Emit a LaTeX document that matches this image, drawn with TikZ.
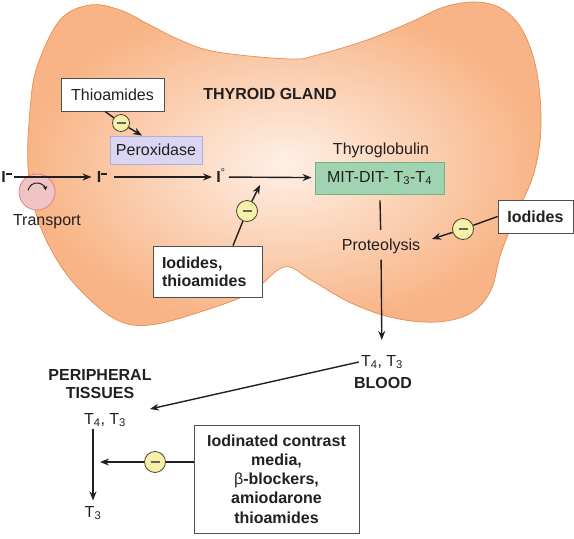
\documentclass[tikz,border=0pt]{standalone}
\usepackage{fontspec}
\setmainfont{Liberation Sans}
\usetikzlibrary{arrows.meta,calc}
\definecolor{ink}{RGB}{35,31,32}
\definecolor{boxgray}{RGB}{80,80,80}
\definecolor{blobedge}{RGB}{232,140,80}
\definecolor{blobout}{RGB}{248,180,134}
\definecolor{blobin}{RGB}{254,240,230}
\definecolor{peroxfill}{RGB}{218,214,242}
\definecolor{peroxedge}{RGB}{180,170,222}
\definecolor{mitfill}{RGB}{160,212,176}
\definecolor{mitedge}{RGB}{110,180,135}
\definecolor{trfill}{RGB}{240,196,196}
\definecolor{tredge}{RGB}{222,130,130}
\definecolor{minfill}{RGB}{246,240,168}
\definecolor{minedge}{RGB}{70,70,50}
\begin{document}
\begin{tikzpicture}[x=1pt,y=-1pt,
  every node/.style={font=\fontsize{16}{19}\selectfont, text=ink},
  arr/.style={draw=ink, line width=1.4pt, -{Stealth[length=9pt,width=7pt]}},
  ln/.style={draw=ink, line width=1.4pt},
  wbox/.style={draw=boxgray, fill=white, line width=0.8pt, inner sep=0pt},
  ion/.style={inner sep=1pt, text height=11.5pt, text depth=0pt},
  minusc/.style={circle, draw=minedge, fill=minfill, line width=0.8pt, minimum size=#1, inner sep=0pt,
    path picture={\draw[line width=1.2pt, ink!70] ([xshift=-4.5pt]path picture bounding box.center) -- ([xshift=4.5pt]path picture bounding box.center);}},
  minusc/.default=21pt
]
\useasboundingbox (0,0) rectangle (574,539);
% thyroid gland blob
\shadedraw[draw=blobedge, line width=0.7pt, inner color=blobin, outer color=blobout]
  plot[smooth cycle, tension=0.6] coordinates {
  (37,67) (60,20) (90,5) (120,10) (150,25) (180,40) (217,52) (290,59)
  (317,55) (367,40) (411,22) (444,7) (477,2) (504,10) (524,33) (537,73)
  (541,127) (534,173) (517,213) (501,253) (491,290) (471,313) (437,322)
  (394,318) (351,303) (311,280) (284,267) (250,293) (200,312) (150,325)
  (117,320) (83,293) (57,260) (37,217) (28,167) (30,110)};
% labels
\node (gland) at (270,94) {\textbf{THYROID GLAND}};
\node[wbox, minimum width=103pt, minimum height=33pt] (thio) at (112.5,94.5) {Thioamides};
\node[draw=peroxedge, fill=peroxfill, line width=0.8pt, minimum width=92pt, minimum height=28pt, inner sep=0pt] (perox) at (156,150) {Peroxidase};
% transport
\node[circle, draw=tredge, fill=trfill, line width=0.8pt, minimum size=36pt, inner sep=0pt] (tr) at (37,192) {};
\draw[ink, line width=1pt, -{Stealth[length=4.5pt,width=4.5pt]}] ([shift={(-8.9pt,1.6pt)}]tr.center) arc[start angle=170, end angle=10, radius=9pt];
\node (trl) at (47,222) {Transport};
% iodide chain
\node[ion] (in0) at (6.5,177) {\textbf{I}\raisebox{8pt}{\rule{6pt}{1.3pt}}};
\node[ion] (i1) at (102,177) {\textbf{I}\raisebox{8pt}{\rule{6pt}{1.3pt}}};
\node[ion] (i2) at (221,177) {\textbf{I}\textsuperscript{°}};
\node (tg) at (381,150) {Thyroglobulin};
\node[draw=mitedge, fill=mitfill, line width=0.8pt, minimum width=129pt, minimum height=32pt, inner sep=0pt] (mit) at (379.5,178) {MIT-DIT- T\textsubscript{3}-T\textsubscript{4}};
\draw[arr, shorten <=1pt, shorten >=4pt] (in0) -- (i1);
\draw[arr, shorten <=6pt, shorten >=3pt] (i1) -- (i2);
\draw[arr, shorten <=2pt, shorten >=3pt] (i2) -- (mit);
% proteolysis
\node[inner sep=2pt] (prot) at (381,246) {Proteolysis};
\draw[ln, shorten <=6pt, shorten >=6.5pt] (mit) -- (prot);
\node[inner sep=2pt] (blood) at (382,362) {T\textsubscript{4}, T\textsubscript{3}};
\node (bloodl) at (383,383) {\textbf{BLOOD}};
\draw[arr, shorten <=4pt, shorten >=13pt] (prot) -- (blood);
% iodides, thioamides box
\node[wbox, minimum width=109pt, minimum height=51pt, align=left, font=\fontsize{16}{18}\selectfont\bfseries, text width=91pt] (iod1) at (207.5,271.5) {Iodides,\\thioamides};
\coordinate (c1) at (260,185);
\node[minusc] (m2) at (247,211) {};
% iodides right box
\node[wbox, minimum width=75pt, minimum height=33pt] (iod2) at (535.5,216.5) {\textbf{Iodides}};
\coordinate (c4) at (432,239);
\node[minusc] (m3) at (463,229) {};
% peripheral tissues
\node[align=center, font=\fontsize{16}{18}\selectfont\bfseries] (pl) at (100,384) {PERIPHERAL\\TISSUES};
\node[inner sep=2pt] (pt) at (105,420) {T\textsubscript{4}, T\textsubscript{3}};
\node[inner sep=2pt] (t3) at (93,513) {T\textsubscript{3}};
\coordinate (c2) at (150,409);
\draw[arr] (blood.west) -- (c2);
\draw[arr, shorten >=3.5pt] (t3 |- pt.south) -- (t3);
\node[wbox, minimum width=165pt, minimum height=108pt, align=center, font=\fontsize{16}{19.2}\selectfont\bfseries] (cm) at (276.5,479) {Iodinated contrast\\media,\\{\mdseries β}-blockers,\\amiodarone\\thioamides};
\coordinate (c3) at (100,462);
\node[minusc] (m4) at (155,462) {};
% inhibition arrows
\node[minusc=17pt] (m1) at (121,123) {};
\draw[ln] ([xshift=-7.5pt]thio.south) -- (m1);
\draw[arr] (m1) -- ([xshift=-14pt]perox.north);
\draw[ln] ([xshift=25.5pt]iod1.north) -- (m2);
\draw[arr] (m2) -- (c1);
\draw[ln] (iod2.west) -- (m3);
\draw[arr] (m3) -- (c4);
\draw[ln] ([yshift=17pt]cm.west) -- (m4);
\draw[arr] (m4) -- (c3);
\end{tikzpicture}
\end{document}
